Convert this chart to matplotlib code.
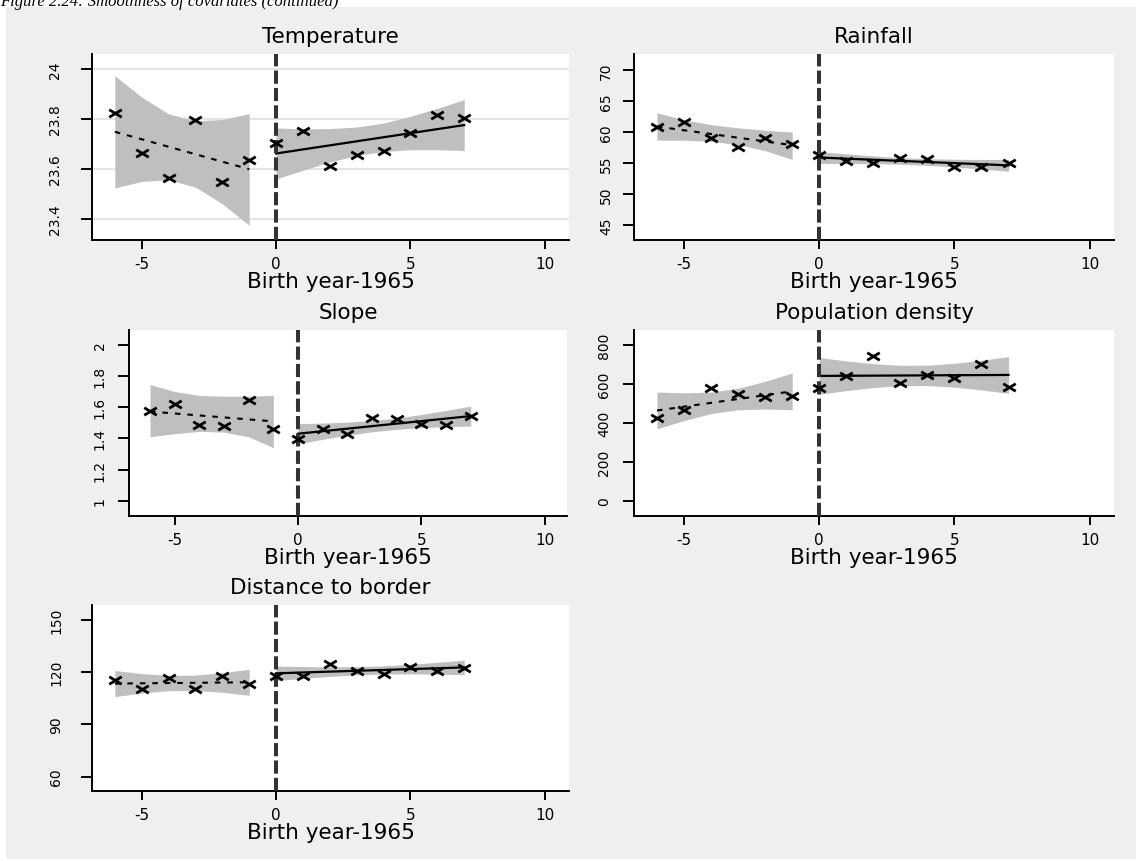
import matplotlib
matplotlib.use("Agg")
import matplotlib.pyplot as plt
from matplotlib.path import Path
from matplotlib.patches import Rectangle

plt.rcParams["font.family"] = ["DejaVu Sans"]
plt.rcParams["lines.scale_dashes"] = False

W, H = 1136, 862

# ---------------------------------------------------------------------
# Cohort means by birth year (relative to 1965), linear fits and 95% CIs
# ---------------------------------------------------------------------

x_left = [-6, -5, -4, -3, -2, -1]
x_right = [0, 1, 2, 3, 4, 5, 6, 7]
x_ticks = [-5, 0, 5, 10]

temp_left = [23.822, 23.662, 23.563, 23.795, 23.547, 23.633]
temp_right = [23.703, 23.753, 23.611, 23.654, 23.669, 23.742, 23.816, 23.803]
temp_fit_left = [23.748, 23.598]
temp_fit_right = [23.661, 23.775]
temp_lo_left = [23.523, 23.549, 23.556, 23.526, 23.459, 23.373]
temp_hi_left = [23.973, 23.887, 23.820, 23.792, 23.797, 23.821]
temp_lo_right = [23.559, 23.594, 23.627, 23.653, 23.669, 23.676, 23.676, 23.673]
temp_hi_right = [23.763, 23.760, 23.761, 23.767, 23.783, 23.810, 23.842, 23.877]
temp_ticks = [23.4, 23.6, 23.8, 24]
temp_ticklabels = ["23.4", "23.6", "23.8", "24"]

rain_left = [60.79, 61.6, 59.03, 57.58, 59.03, 58.12]
rain_right = [56.35, 55.28, 55.01, 55.87, 55.6, 54.37, 54.37, 55.06]
rain_fit_left = [60.9, 57.9]
rain_fit_right = [55.9, 54.64]
rain_lo_left = [58.7, 58.7, 58.5, 58.0, 57.0, 55.6]
rain_hi_left = [63.1, 62.0, 61.2, 60.7, 60.3, 60.0]
rain_lo_right = [54.95, 54.95, 54.92, 54.83, 54.65, 54.38, 54.05, 53.69]
rain_hi_right = [56.85, 56.49, 56.16, 55.89, 55.71, 55.62, 55.59, 55.59]
rain_ticks = [45, 50, 55, 60, 65, 70]
rain_ticklabels = ["45", "50", "55", "60", "65", "70"]

slope_left = [1.574, 1.621, 1.487, 1.477, 1.647, 1.462]
slope_right = [1.398, 1.462, 1.426, 1.532, 1.526, 1.494, 1.483, 1.543]
slope_fit_left = [1.572, 1.509]
slope_fit_right = [1.430, 1.543]
slope_lo_left = [1.41, 1.43, 1.445, 1.44, 1.41, 1.34]
slope_hi_left = [1.745, 1.70, 1.675, 1.67, 1.67, 1.675]
slope_lo_right = [1.366, 1.394, 1.420, 1.442, 1.458, 1.469, 1.475, 1.479]
slope_hi_right = [1.494, 1.498, 1.504, 1.514, 1.530, 1.553, 1.579, 1.607]
slope_ticks = [1, 1.2, 1.4, 1.6, 1.8, 2]
slope_ticklabels = ["1", "1.2", "1.4", "1.6", "1.8", "2"]

pop_left = [423.8, 468.0, 578.7, 546.4, 531.0, 539.6]
pop_right = [578.7, 638.3, 740.4, 604.3, 646.8, 628.1, 703.0, 585.6]
pop_fit_left = [463, 561]
pop_fit_right = [640, 645]
pop_lo_left = [369, 411.6, 447, 466.8, 470.4, 467]
pop_hi_left = [557, 553.6, 557, 576.8, 612.4, 655]
pop_lo_right = [546, 564.7, 580.4, 590.1, 590.8, 582.5, 568.2, 550.9]
pop_hi_right = [734, 716.7, 702.4, 694.1, 694.8, 704.5, 720.2, 738.9]
pop_ticks = [0, 200, 400, 600, 800]
pop_ticklabels = ["0", "200", "400", "600", "800"]

dist_left = [115.5, 110.3, 116.6, 110.3, 118.0, 113.2]
dist_right = [117.6, 118.0, 124.7, 120.9, 118.9, 122.8, 120.9, 122.4]
dist_fit_left = [113.5, 114.25]
dist_fit_right = [119.4, 122.8]
dist_lo_left = [106.0, 108.05, 109.4, 109.55, 108.5, 106.75]
dist_hi_left = [121.0, 119.25, 118.2, 118.35, 119.7, 121.75]
dist_lo_right = [115.2, 116.49, 117.62, 118.51, 118.99, 119.08, 118.92, 118.6]
dist_hi_right = [123.6, 123.29, 123.12, 123.21, 123.69, 124.58, 125.72, 127.0]
dist_ticks = [60, 90, 120, 150]
dist_ticklabels = ["60", "90", "120", "150"]


# ---------------------------------------------------------------------
# Panel layout (pixel box: left, right, top, bottom), limits, label pad
# ---------------------------------------------------------------------

panels = [
    dict(title="Temperature", box=(92, 569, 55, 241), ylim=(23.314, 24.06),
         ypad=13.5, grid=True,
         pts=(temp_left, temp_right), fit=(temp_fit_left, temp_fit_right),
         band=(temp_lo_left, temp_hi_left, temp_lo_right, temp_hi_right),
         ticks=(temp_ticks, temp_ticklabels)),
    dict(title="Rainfall", box=(634, 1114, 55, 241), ylim=(42.6, 72.6),
         ypad=7.0, grid=False,
         pts=(rain_left, rain_right), fit=(rain_fit_left, rain_fit_right),
         band=(rain_lo_left, rain_hi_left, rain_lo_right, rain_hi_right),
         ticks=(rain_ticks, rain_ticklabels)),
    dict(title="Slope", box=(129, 567, 331, 517), ylim=(0.903, 2.094),
         ypad=8.0, grid=False,
         pts=(slope_left, slope_right), fit=(slope_fit_left, slope_fit_right),
         band=(slope_lo_left, slope_hi_left, slope_lo_right, slope_hi_right),
         ticks=(slope_ticks, slope_ticklabels)),
    dict(title="Population density", box=(634, 1114, 331, 517), ylim=(-77, 875),
         ypad=8.4, grid=False,
         pts=(pop_left, pop_right), fit=(pop_fit_left, pop_fit_right),
         band=(pop_lo_left, pop_hi_left, pop_lo_right, pop_hi_right),
         ticks=(pop_ticks, pop_ticklabels)),
    dict(title="Distance to border", box=(92, 569, 606, 792), ylim=(51.7, 158.7),
         ypad=12.8, grid=False,
         pts=(dist_left, dist_right), fit=(dist_fit_left, dist_fit_right),
         band=(dist_lo_left, dist_hi_left, dist_lo_right, dist_hi_right),
         ticks=(dist_ticks, dist_ticklabels)),
]

BAND = "#bfbfbf"
CUTOFF = "#333333"

# flat "x" marker, wider than tall
cross = Path([(-1, -0.6), (1, 0.6), (-1, 0.6), (1, -0.6)],
             [Path.MOVETO, Path.LINETO, Path.MOVETO, Path.LINETO])


def px_box(left, right, top, bottom):
    return [left / W, 1 - bottom / H, (right - left) / W, (bottom - top) / H]


fig = plt.figure(figsize=(W / 100, H / 100), dpi=100, facecolor="white")
fig.patches.append(Rectangle((6 / W, 2 / H), 1 - 6 / W, (H - 10) / H,
                             transform=fig.transFigure, facecolor="#efefef",
                             edgecolor="none", zorder=-10))
fig.text(0.0, 1 - 6 / H, "Figure 2.24: Smoothness of covariates (continued)",
         family="Liberation Serif", style="italic", fontsize=12,
         va="baseline", ha="left")

for p in panels:
    ax = fig.add_axes(px_box(*p["box"]))
    ax.set_facecolor("white")

    lo_l, hi_l, lo_r, hi_r = p["band"]
    ax.fill_between(x_left, lo_l, hi_l, color=BAND, lw=0, zorder=1)
    ax.fill_between(x_right, lo_r, hi_r, color=BAND, lw=0, zorder=1)

    fit_l, fit_r = p["fit"]
    ax.plot([x_left[0], x_left[-1]], fit_l, color="black", lw=1.5,
            dashes=(4, 5), zorder=3)
    ax.plot([x_right[0], x_right[-1]], fit_r, color="black", lw=1.6, zorder=3)

    ax.axvline(0, color=CUTOFF, lw=2.9, dashes=(9.5, 3), zorder=4)

    y_l, y_r = p["pts"]
    ax.plot(x_left + x_right, y_l + y_r, ls="none", marker=cross, ms=9,
            mew=2.0, color="black", zorder=5)

    ax.set_xlim(-6.85, 10.9)
    ax.set_ylim(*p["ylim"])
    ax.set_xticks(x_ticks)
    ax.set_xticklabels([str(t) for t in x_ticks])
    ax.set_yticks(p["ticks"][0])
    ax.set_yticklabels(p["ticks"][1])

    for side in ("top", "right"):
        ax.spines[side].set_visible(False)
    for side in ("left", "bottom"):
        ax.spines[side].set_linewidth(1.4)
        ax.spines[side].set_color("black")

    ax.tick_params(axis="x", length=6.8, width=1.4, pad=5.0, labelsize=11)
    ax.tick_params(axis="y", length=8.0, width=1.4, pad=p["ypad"],
                   labelsize=10, labelrotation=90)
    for lab in ax.get_yticklabels():
        lab.set_verticalalignment("center")

    if p["grid"]:
        ax.grid(axis="y", color="#e4e4e4", lw=1.5)
        ax.set_axisbelow(True)

    ax.set_title(p["title"], fontsize=15.5, pad=8.6)
    ax.set_xlabel("Birth year-1965", fontsize=15.5, labelpad=0)

fig.savefig("out.png", dpi=100, facecolor="white")
